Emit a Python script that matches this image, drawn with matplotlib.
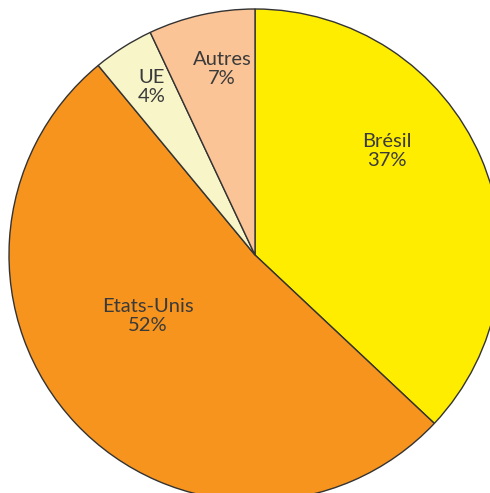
import matplotlib.pyplot as plt

# data
labels = ["Brésil", "Etats-Unis", "UE", "Autres"]
shares = [37, 52, 4, 7]
colors = ["#FFED00", "#F7941E", "#F8F6C8", "#FBC497"]

# label anchor points (pixel coords of the image, y down)
label_pos = [(387, 151), (148, 316), (152, 87), (222, 69)]

W, H = 490, 493
fig = plt.figure(figsize=(W / 100, H / 100), dpi=100)
ax = fig.add_axes([0, 0, 1, 1])

cx, cy, r = 255, H - 255, 246
ax.pie(shares, colors=colors, startangle=90, counterclock=False,
       center=(cx, cy), radius=r, frame=True,
       wedgeprops=dict(edgecolor="#333333", linewidth=1.0))

for (name, pct, (px, py)) in zip(labels, shares, label_pos):
    ax.text(px, H - py, f"{name}\n{pct}%", ha="center", va="center",
            fontsize=14.5, color="#3a3a3a", linespacing=1.2,
            fontweight="normal", family=["Lato", "DejaVu Sans"])

ax.set_xlim(0, W)
ax.set_ylim(0, H)
ax.set_aspect("auto")
ax.axis("off")

fig.savefig("out.png", dpi=100)
